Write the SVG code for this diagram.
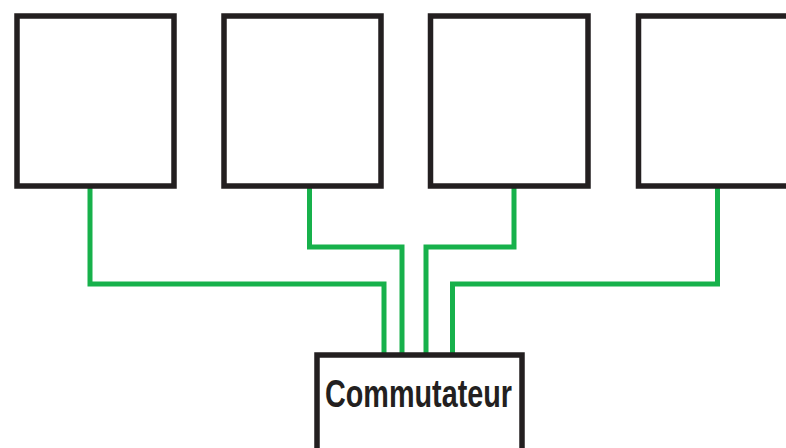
<svg xmlns="http://www.w3.org/2000/svg" width="786" height="448" viewBox="0 0 786 448">
  <style>
    .box { fill: #ffffff; stroke: #231f20; stroke-width: 5.5; }
    .link { fill: none; stroke: #17b14b; stroke-width: 5; stroke-linejoin: miter; }
    .label { font-family: "Liberation Sans", Arial, sans-serif; font-weight: bold; font-size: 39px; fill: #231f20; }
  </style>
  <rect width="786" height="448" fill="#ffffff"/>

  <!-- cabling from each station down to the switch -->
  <g id="connectors">
    <path class="link" d="M90,188 V284 H384 V355"/>
    <path class="link" d="M309.5,188 V247 H402 V355"/>
    <path class="link" d="M514,188 V247 H426 V355"/>
    <path class="link" d="M717.5,188 V284 H452.5 V355"/>
  </g>

  <g id="station1">
    <rect class="box" x="17" y="16" width="157" height="170"/>
  </g>
  <g id="station2">
    <rect class="box" x="224" y="16" width="157" height="170"/>
  </g>
  <g id="station3">
    <rect class="box" x="430.5" y="16" width="157.5" height="170"/>
  </g>
  <g id="station4">
    <rect class="box" x="638.5" y="16" width="160" height="170"/>
  </g>

  <g id="switch">
    <rect class="box" x="317" y="355" width="205" height="120"/>
    <text class="label" x="418.5" y="406.5" text-anchor="middle" textLength="187" lengthAdjust="spacingAndGlyphs">Commutateur</text>
  </g>
</svg>
